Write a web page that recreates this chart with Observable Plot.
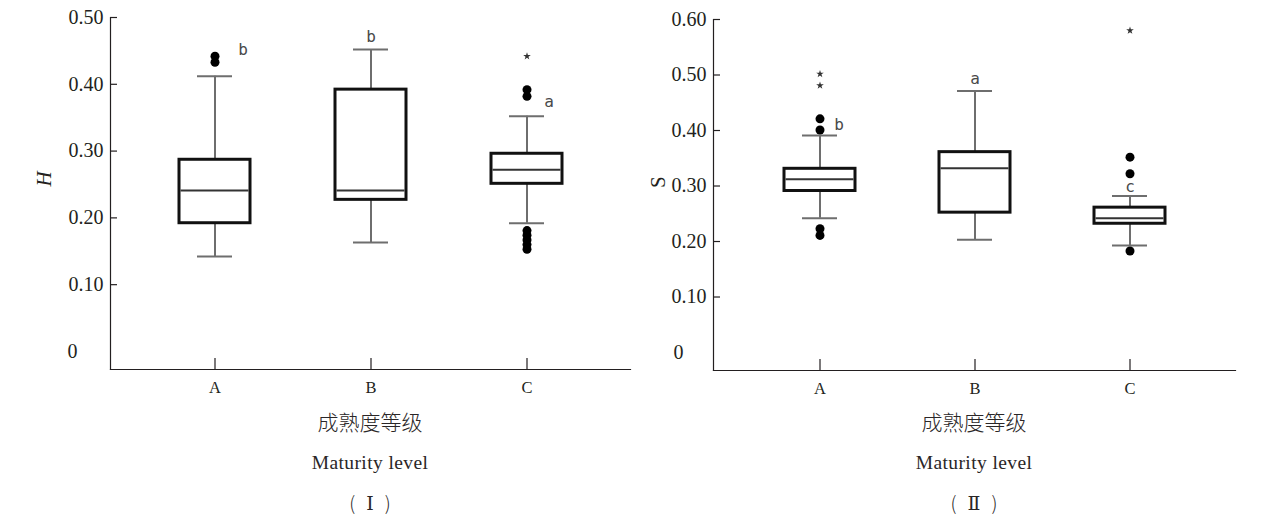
<!DOCTYPE html>
<html>
<head>
<meta charset="utf-8">
<script src="https://cdn.jsdelivr.net/npm/d3@7"></script>
<script src="https://cdn.jsdelivr.net/npm/@observablehq/plot@0.6"></script>
<style>
  html, body { margin: 0; padding: 0; background: #fff; }
  #chart { position: relative; width: 1271px; height: 527px; overflow: hidden; }
  .panel { position: absolute; top: 0; height: 527px; }
  .panel svg { display: block; }
  .cap { position: absolute; text-align: center; color: #2a2627; white-space: nowrap; }
  .cn { font-family: "Noto Sans CJK SC", sans-serif; font-weight: 300; font-size: 21px; line-height: 24px; }
  .en { font-family: "Liberation Serif", "Times New Roman", serif; font-size: 19.5px; line-height: 24px; letter-spacing: 0.4px; }
  .num { font-family: "Noto Sans CJK SC", sans-serif; font-weight: 300; font-size: 19px; line-height: 24px; }
  .num .roman { font-family: "DejaVu Serif", "Liberation Serif", serif; font-size: 19px; margin: 0 11px; }
</style>
</head>
<body>
<div id="chart">
  <div class="panel" id="p1" style="left:0;width:636px"></div>
  <div class="panel" id="p2" style="left:636px;width:635px"></div>
</div>
<script>
// Maturity levels on the x axis
const levels = ["A", "B", "C"];

// Panel I — H: whisker ends, quartiles and medians per level
const hLow = [0.142, 0.163, 0.192];
const hQ1 = [0.192, 0.227, 0.251];
const hMedian = [0.241, 0.241, 0.272];
const hQ3 = [0.287, 0.392, 0.296];
const hHigh = [0.412, 0.452, 0.352];
// mild outliers (circles) and extreme values (stars)
const hOutlierLevel = ["A", "A", "C", "C", "C", "C", "C", "C", "C"];
const hOutlierValue = [0.442, 0.433, 0.392, 0.382, 0.181, 0.174, 0.167, 0.160, 0.153];
const hExtremeLevel = ["C"];
const hExtremeValue = [0.442];
const hLetters = ["b", "b", "a"];
const hTicks = [0.1, 0.2, 0.3, 0.4, 0.5];

// Panel II — S
const sLow = [0.242, 0.203, 0.193];
const sQ1 = [0.291, 0.252, 0.232];
const sMedian = [0.312, 0.332, 0.242];
const sQ3 = [0.331, 0.361, 0.261];
const sHigh = [0.391, 0.471, 0.282];
const sOutlierLevel = ["A", "A", "A", "A", "C", "C", "C"];
const sOutlierValue = [0.421, 0.401, 0.223, 0.211, 0.352, 0.322, 0.183];
const sExtremeLevel = ["A", "A", "C"];
const sExtremeValue = [0.502, 0.481, 0.580];
const sLetters = ["b", "a", "c"];
const sTicks = [0.1, 0.2, 0.3, 0.4, 0.5, 0.6];

const ink = "#231f20";
const serif = "'Liberation Serif', 'Times New Roman', serif";

function boxPanel(o) {
  const boxes = levels.map((level, i) => ({
    level, low: o.low[i], q1: o.q1[i], median: o.median[i], q3: o.q3[i], high: o.high[i], letter: o.letters[i]
  }));
  const outliers = o.outLevel.map((level, i) => ({level, value: o.outValue[i]}));
  const extremes = o.extLevel.map((level, i) => ({level, value: o.extValue[i]}));
  const whisker = {stroke: "#6e6e6e", strokeWidth: 2};
  const tickText = {fontFamily: serif, fontSize: 20, fill: ink};

  return Plot.plot({
    width: o.width,
    height: 400,
    marginLeft: o.marginLeft,
    marginRight: o.marginRight,
    marginTop: o.marginTop,
    marginBottom: o.marginBottom,
    style: {fontFamily: serif, color: ink, background: "transparent", overflow: "visible"},
    x: {type: "band", domain: levels, paddingInner: o.paddingInner, paddingOuter: o.paddingOuter, axis: null},
    y: {domain: o.domain, axis: null},
    marks: [
      Plot.frame({anchor: "left", stroke: ink, strokeWidth: 1.2}),
      Plot.frame({anchor: "bottom", stroke: ink, strokeWidth: 1.2}),
      // y ticks point inward, labels sit to the left
      Plot.axisY({ticks: o.ticks, tickSize: -7, fill: "none", stroke: ink, strokeWidth: 1.2, label: null}),
      Plot.axisY({ticks: o.ticks, tickSize: 0, tickPadding: 7, tickFormat: d3.format(".2f"), ...tickText, label: null}),
      Plot.axisY({ticks: [0], tickSize: 0, tickPadding: o.zeroPadding, textAnchor: "start", tickFormat: () => "0", ...tickText, label: null}),
      // x ticks point up into the plot
      Plot.axisX({tickSize: -11, fill: "none", stroke: ink, strokeWidth: 1.2, label: null}),
      Plot.axisX({tickSize: 0, tickPadding: 12, fontFamily: serif, fontSize: 16.5, fill: ink, label: null}),
      // whiskers and caps
      Plot.ruleX(boxes, {x: "level", y1: "low", y2: "q1", ...whisker}),
      Plot.ruleX(boxes, {x: "level", y1: "q3", y2: "high", ...whisker}),
      Plot.tickY(boxes, {x: "level", y: "low", inset: 18, ...whisker}),
      Plot.tickY(boxes, {x: "level", y: "high", inset: 18, ...whisker}),
      // interquartile boxes and medians
      Plot.barY(boxes, {x: "level", y1: "q1", y2: "q3", fill: "white", stroke: "#111", strokeWidth: 3}),
      Plot.tickY(boxes, {x: "level", y: "median", stroke: "#333", strokeWidth: 2, inset: 1.5}),
      // outliers
      Plot.dot(outliers, {x: "level", y: "value", r: 4.5, fill: "#000", stroke: "none"}),
      Plot.dot(extremes, {x: "level", y: "value", symbol: "star", r: 2.4, fill: "#333", stroke: "none"}),
      // significance letters next to each box
      ...boxes.map((b, i) => Plot.text([b], {
        x: "level", y: "high", text: "letter",
        dx: o.letterDx[i], dy: o.letterDy[i],
        fontFamily: "'DejaVu Sans Mono', monospace", fontSize: 16, fill: "#4a4a4a"
      })),
      // y axis title
      Plot.text([o.yLabel], {
        text: d => d, frameAnchor: "left", dx: o.labelDx, dy: -7, rotate: -90,
        fontFamily: serif, fontSize: 21, fontStyle: o.yItalic ? "italic" : "normal", fill: ink
      })
    ]
  });
}

function addCaptions(panel, left, width, numeral) {
  const lines = [
    {cls: "cn", html: "成熟度等级", top: 409},
    {cls: "en", html: "Maturity level", top: 451},
    {cls: "num", html: `(<span class="roman">${numeral}</span>)`, top: 490}
  ];
  for (const l of lines) {
    const div = document.createElement("div");
    div.className = "cap " + l.cls;
    div.style.left = left + "px";
    div.style.width = width + "px";
    div.style.top = l.top + "px";
    div.innerHTML = l.html;
    panel.appendChild(div);
  }
}

const p1 = document.getElementById("p1");
p1.appendChild(boxPanel({
  low: hLow, q1: hQ1, median: hMedian, q3: hQ3, high: hHigh,
  outLevel: hOutlierLevel, outValue: hOutlierValue,
  extLevel: hExtremeLevel, extValue: hExtremeValue,
  letters: hLetters, ticks: hTicks,
  letterDx: [28, 0, 22], letterDy: [-26, -13, -14],
  yLabel: "H", yItalic: true, labelDx: -66,
  domain: [-0.027, 0.5],
  width: 636, marginLeft: 110, marginRight: 6, marginTop: 17, marginBottom: 31,
  paddingInner: 0.548, paddingOuter: 0.44, zeroPadding: 43
}));
addCaptions(p1, 110, 520, "Ⅰ");

const p2 = document.getElementById("p2");
p2.appendChild(boxPanel({
  low: sLow, q1: sQ1, median: sMedian, q3: sQ3, high: sHigh,
  outLevel: sOutlierLevel, outValue: sOutlierValue,
  extLevel: sExtremeLevel, extValue: sExtremeValue,
  letters: sLetters, ticks: sTicks,
  letterDx: [19, 0, 0], letterDy: [-11, -12, -9],
  yLabel: "S", yItalic: false, labelDx: -55,
  domain: [-0.0324, 0.6],
  width: 635, marginLeft: 77, marginRight: 36, marginTop: 19, marginBottom: 30,
  paddingInner: 0.543, paddingOuter: 0.45, zeroPadding: 40
}));
addCaptions(p2, 77, 522, "Ⅱ");
</script>
</body>
</html>
